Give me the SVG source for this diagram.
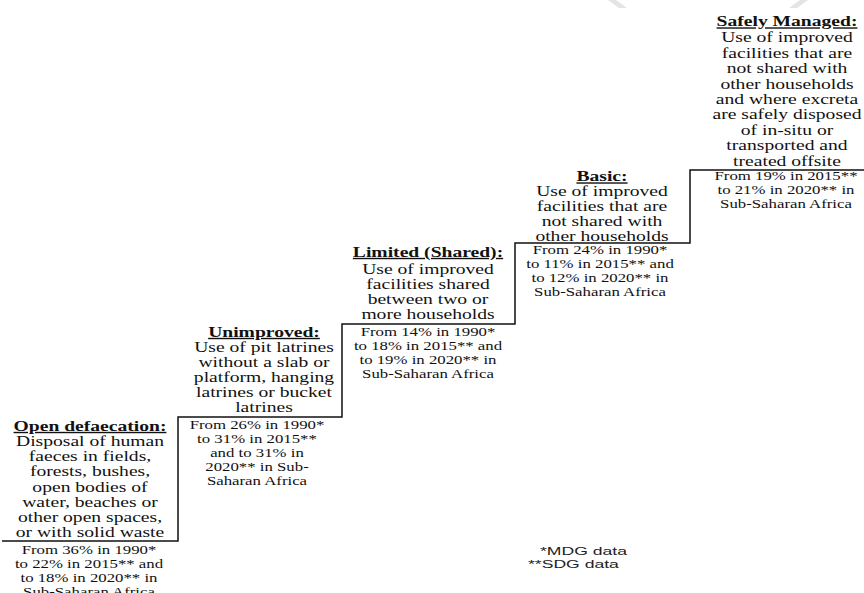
<svg xmlns="http://www.w3.org/2000/svg" width="864" height="593" viewBox="0 0 864 593">
<style>
text{font-family:"Liberation Serif","Times New Roman",serif;fill:#111;text-anchor:middle}
.t{font-size:14px;font-weight:bold;text-decoration:underline}
.b{font-size:14px}
.s{font-size:12px}
.lg{font-family:"Liberation Sans",Arial,sans-serif;font-size:11px;text-anchor:start;fill:#222}
.stair{fill:none;stroke:#111;stroke-width:1.5}
.wm{fill:#e4e4e4}
</style>
<rect width="864" height="593" fill="#fff"/>
<g id="watermark">
<polygon class="wm" points="608,0 616,0 627,8 619,8"/>
<polygon class="wm" points="800,0 808,0 797,8 789,8"/>
</g>
<g id="connectors">
<polyline class="stair" points="2,541 178,541 178,417 342,417 342,324 515,324 515,243 690,243 690,170 864,170"/>
</g>
<g id="open-defaecation">
<g transform="translate(90,0) scale(1.4,1)">
<text class="t" x="0" y="431">Open defaecation:</text>
<text class="b" x="0" y="446">Disposal of human</text>
<text class="b" x="0" y="461.3">faeces in fields,</text>
<text class="b" x="0" y="476.5">forests, bushes,</text>
<text class="b" x="0" y="491.8">open bodies of</text>
<text class="b" x="0" y="507">water, beaches or</text>
<text class="b" x="0" y="522.3">other open spaces,</text>
<text class="b" x="0" y="537.5">or with solid waste</text>
</g>
<g transform="translate(89,0) scale(1.4,1)">
<text class="s" x="0" y="554.5">From 36% in 1990*</text>
<text class="s" x="0" y="568.5">to 22% in 2015** and</text>
<text class="s" x="0" y="582.5">to 18% in 2020** in</text>
<text class="s" x="0" y="596.5">Sub-Saharan Africa</text>
</g>
</g>
<g id="unimproved">
<g transform="translate(264,0) scale(1.4,1)">
<text class="t" x="0" y="337">Unimproved:</text>
<text class="b" x="0" y="352">Use of pit latrines</text>
<text class="b" x="0" y="367">without a slab or</text>
<text class="b" x="0" y="382">platform, hanging</text>
<text class="b" x="0" y="397">latrines or bucket</text>
<text class="b" x="0" y="412">latrines</text>
</g>
<g transform="translate(257,0) scale(1.4,1)">
<text class="s" x="0" y="429">From 26% in 1990*</text>
<text class="s" x="0" y="443">to 31% in 2015**</text>
<text class="s" x="0" y="457">and to 31% in</text>
<text class="s" x="0" y="471">2020** in Sub-</text>
<text class="s" x="0" y="485">Saharan Africa</text>
</g>
</g>
<g id="limited-shared">
<g transform="translate(428,0) scale(1.4,1)">
<text class="t" x="0" y="257">Limited (Shared):</text>
<text class="b" x="0" y="274">Use of improved</text>
<text class="b" x="0" y="289">facilities shared</text>
<text class="b" x="0" y="304">between two or</text>
<text class="b" x="0" y="319">more households</text>
<text class="s" x="0" y="336">From 14% in 1990*</text>
<text class="s" x="0" y="350">to 18% in 2015** and</text>
<text class="s" x="0" y="364">to 19% in 2020** in</text>
<text class="s" x="0" y="378">Sub-Saharan Africa</text>
</g>
</g>
<g id="basic">
<g transform="translate(602,0) scale(1.4,1)">
<text class="t" x="0" y="181.5">Basic:</text>
<text class="b" x="0" y="196.5">Use of improved</text>
<text class="b" x="0" y="211.5">facilities that are</text>
<text class="b" x="0" y="226.5">not shared with</text>
<text class="b" x="0" y="241.3">other households</text>
</g>
<g transform="translate(600,0) scale(1.4,1)">
<text class="s" x="0" y="254.5">From 24% in 1990*</text>
<text class="s" x="0" y="268.5">to 11% in 2015** and</text>
<text class="s" x="0" y="282.5">to 12% in 2020** in</text>
<text class="s" x="0" y="296.5">Sub-Saharan Africa</text>
</g>
</g>
<g id="safely-managed">
<g transform="translate(787,0) scale(1.4,1)">
<text class="t" x="0" y="26.5">Safely Managed:</text>
<text class="b" x="0" y="42.5">Use of improved</text>
<text class="b" x="0" y="57.9">facilities that are</text>
<text class="b" x="0" y="73.3">not shared with</text>
<text class="b" x="0" y="88.7">other households</text>
<text class="b" x="0" y="104.1">and where excreta</text>
<text class="b" x="0" y="119.5">are safely disposed</text>
<text class="b" x="0" y="134.9">of in-situ or</text>
<text class="b" x="0" y="150.3">transported and</text>
<text class="b" x="0" y="165.7">treated offsite</text>
</g>
<g transform="translate(786,0) scale(1.4,1)">
<text class="s" x="0" y="180">From 19% in 2015**</text>
<text class="s" x="0" y="194">to 21% in 2020** in</text>
<text class="s" x="0" y="208">Sub-Saharan Africa</text>
</g>
</g>
<g id="legend">
<g transform="translate(540,0) scale(1.6,1)"><text class="lg" x="0" y="555">*MDG data</text></g>
<g transform="translate(528,0) scale(1.6,1)"><text class="lg" x="0" y="568">**SDG data</text></g>
</g>
</svg>
